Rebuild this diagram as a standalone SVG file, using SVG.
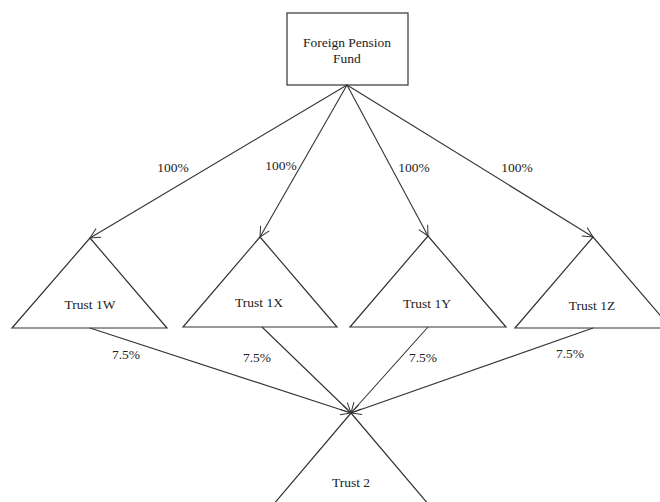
<svg xmlns="http://www.w3.org/2000/svg" width="660" height="502" viewBox="0 0 660 502">
<defs>
<marker id="arr" viewBox="0 0 12 12" refX="11" refY="6" markerWidth="12" markerHeight="12" markerUnits="userSpaceOnUse" orient="auto">
<path d="M1,1 L11,6 L1,11" fill="none" stroke="#333" stroke-width="1"/>
</marker>
<style>
.shape{fill:#fff;stroke:#333;stroke-width:1.2}
.lbl{font-family:"Liberation Serif","Times New Roman",serif;font-size:13.5px;fill:#222;text-anchor:middle}
.edge{stroke:#333;stroke-width:1.1;fill:none;marker-end:url(#arr)}
</style>
</defs>
<rect width="660" height="502" fill="#fff"/>
<g id="fund">
<rect class="shape" x="287" y="13" width="121" height="72"/>
<text class="lbl" x="347" y="47">Foreign Pension</text>
<text class="lbl" x="347" y="63">Fund</text>
</g>
<g id="trust1w">
<polygon class="shape" points="90,238 167,328 12,328"/>
<text class="lbl" x="90" y="309">Trust 1W</text>
</g>
<g id="trust1x">
<polygon class="shape" points="260,237 337,327 183,327"/>
<text class="lbl" x="259" y="307">Trust 1X</text>
</g>
<g id="trust1y">
<polygon class="shape" points="428,236 506,327 350,327"/>
<text class="lbl" x="427" y="308">Trust 1Y</text>
</g>
<g id="trust1z">
<polygon class="shape" points="593,237 671,328 515,328"/>
<text class="lbl" x="592" y="310">Trust 1Z</text>
</g>
<g id="trust2">
<polygon class="shape" points="351,413 429,505 273,505"/>
<text class="lbl" x="351" y="487">Trust 2</text>
</g>
<g id="connectors">
<line class="edge" x1="347" y1="85" x2="90" y2="238"/>
<line class="edge" x1="347" y1="85" x2="260" y2="237"/>
<line class="edge" x1="347" y1="85" x2="428" y2="236"/>
<line class="edge" x1="347" y1="85" x2="593" y2="237"/>
<line class="edge" x1="90" y1="328" x2="351" y2="413"/>
<line class="edge" x1="262" y1="327" x2="351" y2="413"/>
<line class="edge" x1="428" y1="327" x2="351" y2="413"/>
<line class="edge" x1="593" y1="328" x2="351" y2="413"/>
<text class="lbl" x="173" y="172">100%</text>
<text class="lbl" x="281" y="170">100%</text>
<text class="lbl" x="414" y="172">100%</text>
<text class="lbl" x="517" y="172">100%</text>
<text class="lbl" x="126" y="359">7.5%</text>
<text class="lbl" x="257" y="362">7.5%</text>
<text class="lbl" x="423" y="362">7.5%</text>
<text class="lbl" x="570" y="358">7.5%</text>
</g>
</svg>
